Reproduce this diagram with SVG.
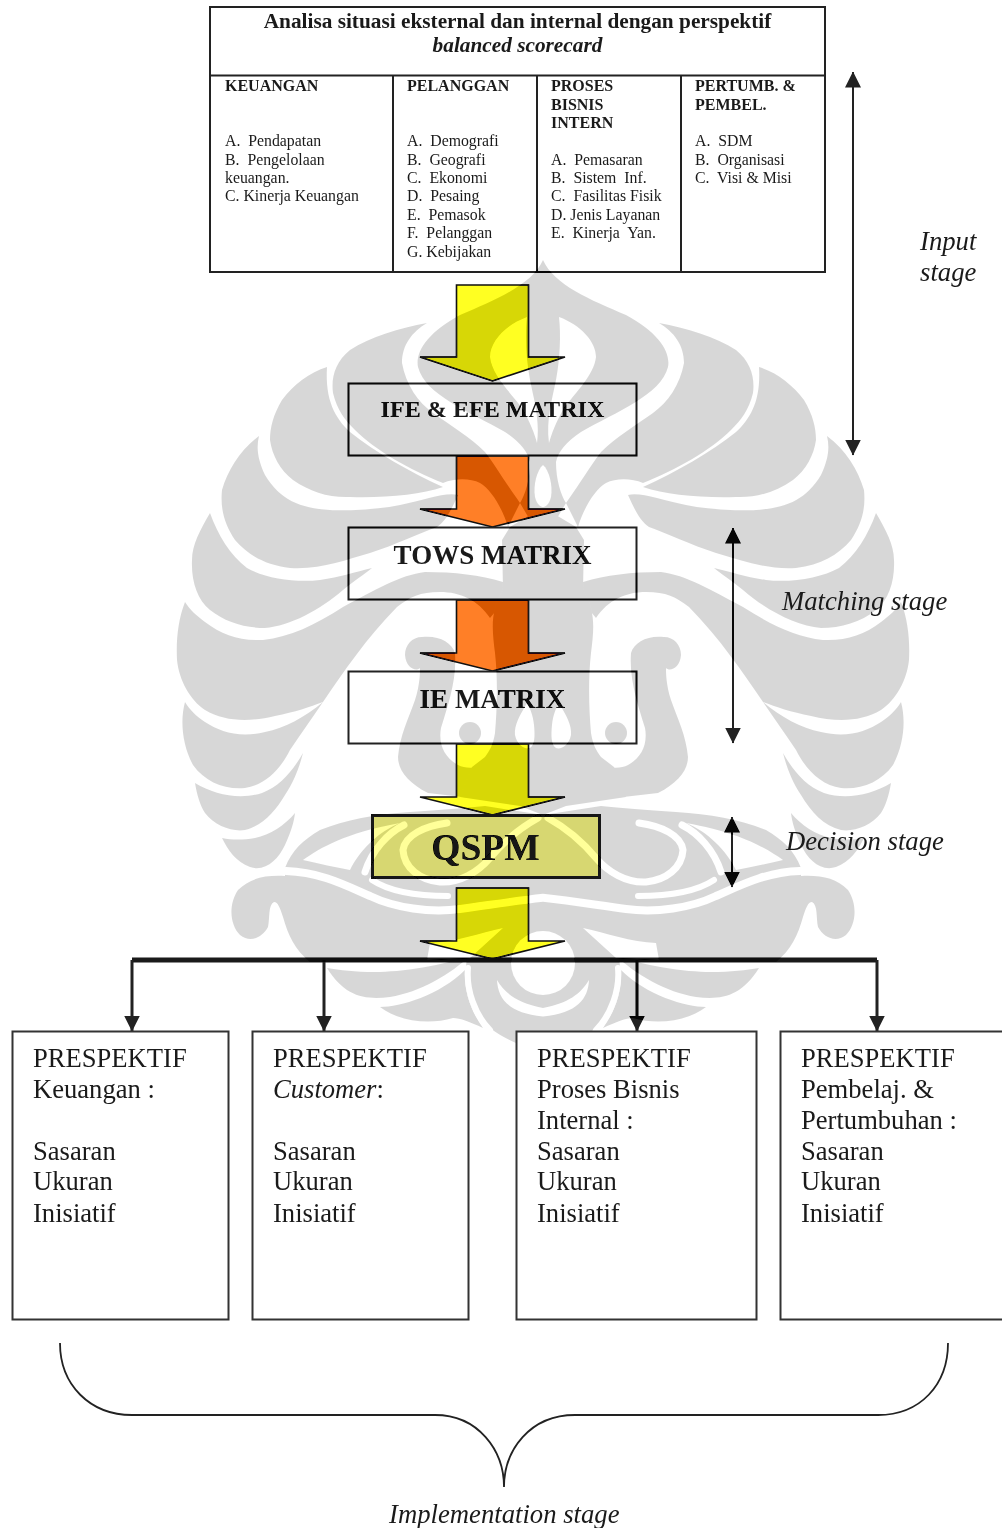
<svg xmlns="http://www.w3.org/2000/svg" xmlns:xlink="http://www.w3.org/1999/xlink" width="1002" height="1528" viewBox="0 0 1002 1528">
<style>
text{font-family:"Liberation Serif","Times New Roman",serif;fill:#1a1a1a;white-space:pre}
.b{fill:none;stroke:#222;stroke-width:2}
.sm{font-size:15.800px}
.smb{font-size:16px;font-weight:bold}
.mx{font-size:24.100px;font-weight:bold;text-anchor:middle}
.pr{font-size:26.600px}
.st{font-size:26.700px;font-style:italic}
.ay{fill:#ffff22;stroke:#111;stroke-width:1.600;stroke-linejoin:miter}
.ao{fill:#ff7f27;stroke:#111;stroke-width:1.600}
.ln{fill:none;stroke:#222;stroke-width:2}
.lt{fill:none;stroke:#222;stroke-width:3}
.g{fill:#282828}
.w{fill:#000}
.ws{fill:none;stroke:#000;stroke-linecap:round}
</style>
<defs>
<marker id="ah" markerUnits="userSpaceOnUse" markerWidth="16" markerHeight="17" refX="15.500" refY="8" orient="auto-start-reverse"><path d="M0 0L16 8L0 16Z" fill="#222"/></marker>
<clipPath id="lh"><rect x="0" y="0" width="543" height="1528"/></clipPath>
<g id="half" clip-path="url(#lh)">
<path class="g" d="M543 260C532 285 495 300 460 315C428 332 415 352 418 367C425 395 470 412 505 432C520 442 528 452 530 462C530 480 525 495 520 503L530 520L543 530Z"/>
<path class="g" d="M427 323C400 328 370 337 350 350C335 362 331 378 333 393C337 410 345 420 355 430C375 450 410 470 443 483C455 478 470 478 480 483C492 490 503 510 508 527L520 503C505 482 495 465 485 452C470 437 450 425 433 413C418 402 406 385 402 363C402 345 412 332 427 323Z"/>
<path class="g" d="M327 367C310 372 293 385 282 400C273 415 270 428 270 440C272 455 280 470 293 480C310 492 330 498 350 497C385 498 420 495 443 487C410 472 375 452 350 432C335 418 325 400 327 367Z"/>
<path class="g" d="M259 436C240 450 228 470 222 490C220 510 225 525 235 540C248 555 265 565 290 568C320 570 345 560 370 553C395 545 420 533 437 527C447 520 452 508 458 495C445 492 425 500 400 505C375 510 345 511 330 510C300 508 280 500 265 475C258 460 256 448 259 436Z"/>
<path class="g" d="M210 513C200 530 192 545 192 560C191 580 197 600 210 610C225 622 245 628 265 628C290 626 320 610 343 590C355 580 365 574 372 568C355 572 340 577 320 580C295 583 265 578 247 568C230 555 218 535 210 513Z"/>
<path class="g" d="M185 602C178 620 176 640 177 660C179 680 190 700 205 710C225 722 250 722 275 716C295 712 310 707 323 702C345 670 365 640 397 607C410 597 420 592 440 592C460 592 478 600 490 618L505 600L503 582C480 575 455 572 425 572C400 575 375 590 343 607C315 625 290 637 263 640C240 641 222 635 205 622C196 615 190 610 185 602Z"/>
<path class="g" d="M185 702C180 720 182 745 193 765C205 782 225 790 245 788C265 785 280 770 290 750C300 735 312 718 323 702C305 717 285 728 265 732C240 738 220 732 205 722C196 716 190 710 185 702Z"/>
<path class="g" d="M195 783C197 795 200 805 205 813C215 826 232 832 245 830C262 826 275 812 285 795C295 780 300 765 303 753C292 772 280 786 262 793C240 800 215 795 195 783Z"/>
<path class="g" d="M222 838C228 850 236 862 250 867C265 872 278 860 285 845C291 832 294 822 295 813C285 825 270 835 255 838C243 840 232 840 222 838Z"/>
<path class="g" d="M405 655C405 645 412 637 422 637C438 635 452 642 455 653C457 680 448 705 441 728C438 745 445 758 458 765C464 768 472 769 480 766L480 799L428 793C408 783 398 770 398 757C400 735 408 720 415 700C420 685 420 672 420 668C416 672 406 668 405 655Z"/>
<path class="g" d="M543 505L535 512L510 527L502 540L503 590C490 610 492 630 495 653C498 680 497 710 495 733C493 745 490 750 485 757L472 767L460 797L520 806L543 815Z"/>
<circle class="g" cx="470" cy="733" r="11"/>
<path class="g" d="M285 868C292 850 303 840 320 830C345 820 375 814 410 812C440 810 465 808 485 806L543 815V962H310C295 950 288 935 283 917C280 908 278 902 274 902C268 905 270 918 268 927C262 938 250 943 240 935C230 925 228 905 238 890C250 878 265 875 285 876Z"/>
<path class="g" d="M327 968C345 997 365 1000 390 997C420 992 450 975 472 954C445 966 400 972 375 972C355 972 340 970 327 968Z"/>
<path class="g" d="M380 1007C400 1007 440 995 465 970C464 990 470 1010 483 1028C470 1022 460 1018 453 1018C430 1025 400 1022 380 1007Z"/>
<path class="g" d="M467 958C462 990 470 1015 490 1028C500 1036 510 1040 518 1044C526 1040 535 1038 543 1038V958Z"/>
<path class="w" d="M303 860C320 848 345 833 400 823C378 832 360 850 350 870C335 867 320 864 303 860Z"/>
<path class="ws" stroke-width="7" d="M365 872C372 850 388 833 404 825"/>
<path class="ws" stroke-width="7" d="M447 823C425 826 405 835 403 850C404 868 420 880 440 882C460 883 478 872 490 858C505 840 520 828 538 818"/>
<path class="ws" stroke-width="6" d="M372 880C390 892 420 896 448 896"/>
<path class="ws" stroke-width="8" d="M286 871C320 872 345 885 370 896C395 908 430 913 460 909C490 905 520 900 550 897"/>
<path class="w" d="M527 317C505 325 490 342 490 357C492 375 510 392 522 408C530 422 535 435 537 443C540 420 534 400 530 380C526 358 525 335 527 317Z"/>
<path class="w" d="M543 465C537 470 533 485 535 497C537 505 541 507 543 507Z"/>
<path class="w" d="M527 703C520 715 514 725 515 735C517 745 525 750 530 748C535 745 535 735 534 725C533 715 530 708 527 703Z"/>
<path class="w" d="M503 928C480 933 455 942 430 943L427 960L470 958Z"/>
<circle class="w" cx="543" cy="963" r="32"/>
<path class="ws" stroke-width="6" d="M468 968C466 990 475 1015 490 1030"/>
<path class="w" d="M497 980C498 1000 510 1015 550 1017V1009C520 1005 506 995 497 980Z"/>
</g>
</defs>

<rect width="1002" height="1528" fill="#fff"/>

<g id="table">
<rect class="b" x="210" y="7" width="615" height="265"/>
<path class="b" d="M210 75.500H825M393 75.500V272M537 75.500V272M681 75.500V272"/>
<text x="517.500" y="28" font-size="21.300" font-weight="bold" text-anchor="middle">Analisa situasi eksternal dan internal dengan perspektif</text>
<text x="517.500" y="52" font-size="21.300" font-weight="bold" font-style="italic" text-anchor="middle">balanced scorecard</text>
<g id="col1"><text class="smb" x="225" y="91">KEUANGAN</text><text class="sm" x="225" y="146">A.  Pendapatan</text><text class="sm" x="225" y="165">B.  Pengelolaan</text><text class="sm" x="225" y="183">keuangan.</text><text class="sm" x="225" y="201">C. Kinerja Keuangan</text></g>
<g id="col2"><text class="smb" x="407" y="91">PELANGGAN</text><text class="sm" x="407" y="146">A.  Demografi</text><text class="sm" x="407" y="165">B.  Geografi</text><text class="sm" x="407" y="183">C.  Ekonomi</text><text class="sm" x="407" y="201">D.  Pesaing</text><text class="sm" x="407" y="220">E.  Pemasok</text><text class="sm" x="407" y="238">F.  Pelanggan</text><text class="sm" x="407" y="257">G. Kebijakan</text></g>
<g id="col3"><text class="smb" x="551" y="91">PROSES</text><text class="smb" x="551" y="110">BISNIS</text><text class="smb" x="551" y="128">INTERN</text><text class="sm" x="551" y="165">A.  Pemasaran</text><text class="sm" x="551" y="183">B.  Sistem  Inf.</text><text class="sm" x="551" y="201">C.  Fasilitas Fisik</text><text class="sm" x="551" y="220">D. Jenis Layanan</text><text class="sm" x="551" y="238">E.  Kinerja  Yan.</text></g>
<g id="col4"><text class="smb" x="695" y="91">PERTUMB. &amp;</text><text class="smb" x="695" y="110">PEMBEL.</text><text class="sm" x="695" y="146">A.  SDM</text><text class="sm" x="695" y="165">B.  Organisasi</text><text class="sm" x="695" y="183">C.  Visi &amp; Misi</text></g>
</g>

<g id="connectors">
<path class="ay" d="M456.500 285H528.500V357H565L492.500 381L420 357H456.500Z"/>
<path class="ao" d="M456.500 456H528.500V509H565L492.500 527L420 509H456.500Z"/>
<path class="ao" d="M456.500 600H528.500V653H565L492.500 671L420 653H456.500Z"/>
<path class="ay" d="M456.500 744H528.500V797H565L492.500 815L420 797H456.500Z"/>
<path class="ay" d="M456.500 888H528.500V941H565L492.500 959L420 941H456.500Z"/>
<path class="ln" d="M853 72V455" marker-start="url(#ah)" marker-end="url(#ah)"/>
<path class="ln" d="M733 528V743" marker-start="url(#ah)" marker-end="url(#ah)"/>
<path class="ln" d="M732 817V887" marker-start="url(#ah)" marker-end="url(#ah)"/>
<path d="M132 960H877" fill="none" stroke="#1a1a1a" stroke-width="5"/>
<path class="lt" d="M132 960V1031" marker-end="url(#ah)"/>
<path class="lt" d="M324 960V1031" marker-end="url(#ah)"/>
<path class="lt" d="M637 960V1031" marker-end="url(#ah)"/>
<path class="lt" d="M877 960V1031" marker-end="url(#ah)"/>
<path d="M60 1343C60 1385 90 1415 132 1415H435C478 1415 504 1450 504 1487C504 1450 530 1415 575 1415H878C920 1415 948 1385 948 1343" fill="none" stroke="#222" stroke-width="1.800"/>
</g>

<g id="ife"><rect class="b" x="348.500" y="383.500" width="288" height="72"/><text class="mx" x="492.500" y="417">IFE &amp; EFE MATRIX</text></g>
<g id="tows"><rect class="b" x="348.500" y="527.500" width="288" height="72"/><text class="mx" x="492.500" y="564" style="font-size:27px">TOWS MATRIX</text></g>
<g id="ie"><rect class="b" x="348.500" y="671.500" width="288" height="72"/><text class="mx" x="492.500" y="708" style="font-size:27px">IE MATRIX</text></g>
<g id="qspm"><rect x="372.500" y="815.500" width="227" height="62" fill="#ffff99" stroke="#111" stroke-width="3"/><text x="485.500" y="860" font-size="37.500" font-weight="bold" text-anchor="middle" style="fill:#111">QSPM</text></g>

<g id="watermark" style="mix-blend-mode:difference">
<use xlink:href="#half" href="#half"/>
<use xlink:href="#half" href="#half" transform="translate(1086 0) scale(-1 1)"/>
</g>

<g id="p1"><rect x="12.500" y="1031.500" width="216" height="288" fill="#fff" stroke="#333" stroke-width="2"/><text class="pr" x="33" y="1067">PRESPEKTIF</text><text class="pr" x="33" y="1098">Keuangan :</text><text class="pr" x="33" y="1160">Sasaran</text><text class="pr" x="33" y="1190">Ukuran</text><text class="pr" x="33" y="1222">Inisiatif</text></g>
<g id="p2"><rect x="252.500" y="1031.500" width="216" height="288" fill="#fff" stroke="#333" stroke-width="2"/><text class="pr" x="273" y="1067">PRESPEKTIF</text><text class="pr" x="273" y="1098"><tspan font-style="italic">Customer</tspan>:</text><text class="pr" x="273" y="1160">Sasaran</text><text class="pr" x="273" y="1190">Ukuran</text><text class="pr" x="273" y="1222">Inisiatif</text></g>
<g id="p3"><rect x="516.500" y="1031.500" width="240" height="288" fill="#fff" stroke="#333" stroke-width="2"/><text class="pr" x="537" y="1067">PRESPEKTIF</text><text class="pr" x="537" y="1098">Proses Bisnis</text><text class="pr" x="537" y="1129">Internal :</text><text class="pr" x="537" y="1160">Sasaran</text><text class="pr" x="537" y="1190">Ukuran</text><text class="pr" x="537" y="1222">Inisiatif</text></g>
<g id="p4"><rect x="780.500" y="1031.500" width="240" height="288" fill="#fff" stroke="#333" stroke-width="2"/><text class="pr" x="801" y="1067">PRESPEKTIF</text><text class="pr" x="801" y="1098">Pembelaj. &amp;</text><text class="pr" x="801" y="1129">Pertumbuhan :</text><text class="pr" x="801" y="1160">Sasaran</text><text class="pr" x="801" y="1190">Ukuran</text><text class="pr" x="801" y="1222">Inisiatif</text></g>

<g id="labels">
<text class="st" x="920" y="250">Input</text>
<text class="st" x="920" y="281">stage</text>
<text class="st" x="782" y="610">Matching stage</text>
<text class="st" x="786" y="850">Decision stage</text>
<text class="st" x="389" y="1523">Implementation stage</text>
</g>
</svg>
